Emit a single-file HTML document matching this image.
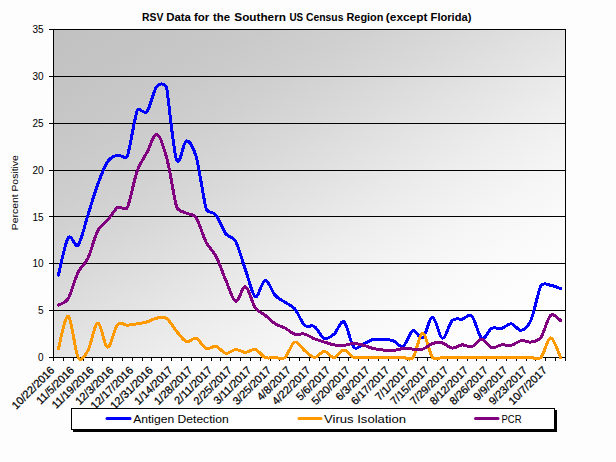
<!DOCTYPE html>
<html><head><meta charset="utf-8"><title>RSV Data</title>
<style>
html,body{margin:0;padding:0;background:#fff;}
body{width:616px;height:462px;position:relative;overflow:hidden;font-family:"Liberation Sans",sans-serif;}
.ar{font-family:"Liberation Sans",sans-serif;fill:#000;}
</style></head><body>
<svg width="616" height="462" viewBox="0 0 616 462" style="position:absolute;left:0;top:0">
<defs><linearGradient id="g" x1="0" y1="0" x2="1" y2="1"><stop offset="0" stop-color="rgb(193,193,193)"/><stop offset="0.1" stop-color="rgb(196,196,196)"/><stop offset="0.2" stop-color="rgb(201,201,201)"/><stop offset="0.3" stop-color="rgb(208,208,208)"/><stop offset="0.4" stop-color="rgb(217,217,217)"/><stop offset="0.5" stop-color="rgb(227,227,227)"/><stop offset="0.6" stop-color="rgb(237,237,237)"/><stop offset="0.7" stop-color="rgb(245,245,245)"/><stop offset="0.8" stop-color="rgb(251,251,251)"/><stop offset="0.9" stop-color="rgb(254,254,254)"/><stop offset="1" stop-color="rgb(255,255,255)"/></linearGradient><clipPath id="cp"><rect x="53.0" y="29.0" width="513.0" height="332.0"/></clipPath></defs>
<rect x="0" y="0" width="616" height="462" fill="#fdfdfd"/>
<rect x="53.5" y="29.5" width="512.0" height="328.0" fill="url(#g)"/>
<line x1="48.5" y1="357.5" x2="565.5" y2="357.5" stroke="#000" stroke-width="1" shape-rendering="crispEdges"/>
<line x1="48.5" y1="310.5" x2="565.5" y2="310.5" stroke="#000" stroke-width="1" shape-rendering="crispEdges"/>
<line x1="48.5" y1="263.5" x2="565.5" y2="263.5" stroke="#000" stroke-width="1" shape-rendering="crispEdges"/>
<line x1="48.5" y1="216.5" x2="565.5" y2="216.5" stroke="#000" stroke-width="1" shape-rendering="crispEdges"/>
<line x1="48.5" y1="170.5" x2="565.5" y2="170.5" stroke="#000" stroke-width="1" shape-rendering="crispEdges"/>
<line x1="48.5" y1="123.5" x2="565.5" y2="123.5" stroke="#000" stroke-width="1" shape-rendering="crispEdges"/>
<line x1="48.5" y1="76.5" x2="565.5" y2="76.5" stroke="#000" stroke-width="1" shape-rendering="crispEdges"/>
<line x1="48.5" y1="29.5" x2="565.5" y2="29.5" stroke="#000" stroke-width="1" shape-rendering="crispEdges"/>
<line x1="53.5" y1="29.0" x2="53.5" y2="358.0" stroke="#000" shape-rendering="crispEdges"/>
<line x1="565.5" y1="29.0" x2="565.5" y2="358.0" stroke="#000" shape-rendering="crispEdges"/>
<line x1="53.5" y1="357.5" x2="53.5" y2="361.0" stroke="#000" shape-rendering="crispEdges"/>
<line x1="63.5" y1="357.5" x2="63.5" y2="361.0" stroke="#000" shape-rendering="crispEdges"/>
<line x1="73.5" y1="357.5" x2="73.5" y2="361.0" stroke="#000" shape-rendering="crispEdges"/>
<line x1="83.5" y1="357.5" x2="83.5" y2="361.0" stroke="#000" shape-rendering="crispEdges"/>
<line x1="92.5" y1="357.5" x2="92.5" y2="361.0" stroke="#000" shape-rendering="crispEdges"/>
<line x1="102.5" y1="357.5" x2="102.5" y2="361.0" stroke="#000" shape-rendering="crispEdges"/>
<line x1="112.5" y1="357.5" x2="112.5" y2="361.0" stroke="#000" shape-rendering="crispEdges"/>
<line x1="122.5" y1="357.5" x2="122.5" y2="361.0" stroke="#000" shape-rendering="crispEdges"/>
<line x1="132.5" y1="357.5" x2="132.5" y2="361.0" stroke="#000" shape-rendering="crispEdges"/>
<line x1="142.5" y1="357.5" x2="142.5" y2="361.0" stroke="#000" shape-rendering="crispEdges"/>
<line x1="151.5" y1="357.5" x2="151.5" y2="361.0" stroke="#000" shape-rendering="crispEdges"/>
<line x1="161.5" y1="357.5" x2="161.5" y2="361.0" stroke="#000" shape-rendering="crispEdges"/>
<line x1="171.5" y1="357.5" x2="171.5" y2="361.0" stroke="#000" shape-rendering="crispEdges"/>
<line x1="181.5" y1="357.5" x2="181.5" y2="361.0" stroke="#000" shape-rendering="crispEdges"/>
<line x1="191.5" y1="357.5" x2="191.5" y2="361.0" stroke="#000" shape-rendering="crispEdges"/>
<line x1="201.5" y1="357.5" x2="201.5" y2="361.0" stroke="#000" shape-rendering="crispEdges"/>
<line x1="211.5" y1="357.5" x2="211.5" y2="361.0" stroke="#000" shape-rendering="crispEdges"/>
<line x1="220.5" y1="357.5" x2="220.5" y2="361.0" stroke="#000" shape-rendering="crispEdges"/>
<line x1="230.5" y1="357.5" x2="230.5" y2="361.0" stroke="#000" shape-rendering="crispEdges"/>
<line x1="240.5" y1="357.5" x2="240.5" y2="361.0" stroke="#000" shape-rendering="crispEdges"/>
<line x1="250.5" y1="357.5" x2="250.5" y2="361.0" stroke="#000" shape-rendering="crispEdges"/>
<line x1="260.5" y1="357.5" x2="260.5" y2="361.0" stroke="#000" shape-rendering="crispEdges"/>
<line x1="270.5" y1="357.5" x2="270.5" y2="361.0" stroke="#000" shape-rendering="crispEdges"/>
<line x1="279.5" y1="357.5" x2="279.5" y2="361.0" stroke="#000" shape-rendering="crispEdges"/>
<line x1="289.5" y1="357.5" x2="289.5" y2="361.0" stroke="#000" shape-rendering="crispEdges"/>
<line x1="299.5" y1="357.5" x2="299.5" y2="361.0" stroke="#000" shape-rendering="crispEdges"/>
<line x1="309.5" y1="357.5" x2="309.5" y2="361.0" stroke="#000" shape-rendering="crispEdges"/>
<line x1="319.5" y1="357.5" x2="319.5" y2="361.0" stroke="#000" shape-rendering="crispEdges"/>
<line x1="329.5" y1="357.5" x2="329.5" y2="361.0" stroke="#000" shape-rendering="crispEdges"/>
<line x1="339.5" y1="357.5" x2="339.5" y2="361.0" stroke="#000" shape-rendering="crispEdges"/>
<line x1="348.5" y1="357.5" x2="348.5" y2="361.0" stroke="#000" shape-rendering="crispEdges"/>
<line x1="358.5" y1="357.5" x2="358.5" y2="361.0" stroke="#000" shape-rendering="crispEdges"/>
<line x1="368.5" y1="357.5" x2="368.5" y2="361.0" stroke="#000" shape-rendering="crispEdges"/>
<line x1="378.5" y1="357.5" x2="378.5" y2="361.0" stroke="#000" shape-rendering="crispEdges"/>
<line x1="388.5" y1="357.5" x2="388.5" y2="361.0" stroke="#000" shape-rendering="crispEdges"/>
<line x1="398.5" y1="357.5" x2="398.5" y2="361.0" stroke="#000" shape-rendering="crispEdges"/>
<line x1="407.5" y1="357.5" x2="407.5" y2="361.0" stroke="#000" shape-rendering="crispEdges"/>
<line x1="417.5" y1="357.5" x2="417.5" y2="361.0" stroke="#000" shape-rendering="crispEdges"/>
<line x1="427.5" y1="357.5" x2="427.5" y2="361.0" stroke="#000" shape-rendering="crispEdges"/>
<line x1="437.5" y1="357.5" x2="437.5" y2="361.0" stroke="#000" shape-rendering="crispEdges"/>
<line x1="447.5" y1="357.5" x2="447.5" y2="361.0" stroke="#000" shape-rendering="crispEdges"/>
<line x1="457.5" y1="357.5" x2="457.5" y2="361.0" stroke="#000" shape-rendering="crispEdges"/>
<line x1="467.5" y1="357.5" x2="467.5" y2="361.0" stroke="#000" shape-rendering="crispEdges"/>
<line x1="476.5" y1="357.5" x2="476.5" y2="361.0" stroke="#000" shape-rendering="crispEdges"/>
<line x1="486.5" y1="357.5" x2="486.5" y2="361.0" stroke="#000" shape-rendering="crispEdges"/>
<line x1="496.5" y1="357.5" x2="496.5" y2="361.0" stroke="#000" shape-rendering="crispEdges"/>
<line x1="506.5" y1="357.5" x2="506.5" y2="361.0" stroke="#000" shape-rendering="crispEdges"/>
<line x1="516.5" y1="357.5" x2="516.5" y2="361.0" stroke="#000" shape-rendering="crispEdges"/>
<line x1="526.5" y1="357.5" x2="526.5" y2="361.0" stroke="#000" shape-rendering="crispEdges"/>
<line x1="535.5" y1="357.5" x2="535.5" y2="361.0" stroke="#000" shape-rendering="crispEdges"/>
<line x1="545.5" y1="357.5" x2="545.5" y2="361.0" stroke="#000" shape-rendering="crispEdges"/>
<line x1="555.5" y1="357.5" x2="555.5" y2="361.0" stroke="#000" shape-rendering="crispEdges"/>
<line x1="565.5" y1="357.5" x2="565.5" y2="361.0" stroke="#000" shape-rendering="crispEdges"/>
<path d="M58.42 275.03 C60.06 268.83 64.99 242.82 68.27 237.83 C71.55 232.83 74.83 248.84 78.12 245.04 C81.40 241.25 84.68 225.21 87.96 215.05 C91.24 204.90 94.53 193.03 97.81 184.13 C101.09 175.23 104.37 166.48 107.65 161.64 C110.94 156.80 114.22 156.01 117.50 155.08 C120.78 154.14 125.35 160.54 127.35 156.01 C129.35 151.49 135.19 115.09 137.19 110.56 C139.19 106.04 143.93 115.35 147.04 111.50 C150.15 107.65 153.60 90.02 156.88 86.20 C160.17 82.37 165.42 83.65 166.73 88.54 C168.04 93.43 173.29 151.02 176.58 159.76 C179.86 168.51 183.14 141.49 186.42 141.02 C189.71 140.55 193.65 147.96 196.27 156.95 C198.89 165.94 204.22 202.89 206.12 208.49 C208.01 214.10 212.68 210.84 215.96 215.05 C219.24 219.27 222.53 229.42 225.81 233.80 C229.09 238.17 232.69 235.86 235.65 241.29 C238.62 246.73 242.22 260.66 245.50 269.88 C248.78 279.09 252.06 294.87 255.35 296.59 C258.63 298.30 261.91 280.42 265.19 280.19 C268.47 279.95 271.76 291.51 275.04 295.18 C278.32 298.85 281.60 299.94 284.88 302.21 C288.17 304.47 291.45 304.94 294.73 308.77 C298.01 312.60 301.29 322.20 304.58 325.17 C307.86 328.14 311.14 324.39 314.42 326.57 C317.71 328.76 320.99 337.04 324.27 338.29 C327.55 339.54 330.83 336.80 334.12 334.07 C337.40 331.34 340.68 319.70 343.96 321.89 C347.24 324.08 350.53 343.52 353.81 347.19 C357.09 350.86 360.37 345.24 363.65 343.91 C366.94 342.58 370.22 339.93 373.50 339.23 C376.78 338.52 380.06 339.46 383.35 339.69 C386.63 339.93 389.91 339.54 393.19 340.63 C396.47 341.72 399.76 347.89 403.04 346.25 C406.32 344.61 409.60 332.20 412.88 330.79 C416.17 329.39 419.45 340.08 422.73 337.82 C426.01 335.56 429.29 317.12 432.58 317.20 C435.86 317.28 439.14 337.74 442.42 338.29 C445.71 338.84 448.99 323.68 452.27 320.48 C455.55 317.28 458.83 319.78 462.12 319.08 C465.40 318.37 468.68 313.06 471.96 316.27 C475.24 319.47 478.53 336.26 481.81 338.29 C485.09 340.32 488.37 330.09 491.65 328.45 C494.94 326.81 498.22 329.23 501.50 328.45 C504.78 327.67 508.06 323.45 511.35 323.76 C514.63 324.08 517.91 330.95 521.19 330.32 C524.47 329.70 528.15 326.53 531.04 320.01 C533.92 313.50 538.45 290.09 540.88 285.81 C543.32 281.52 547.45 284.87 550.73 285.34 C554.01 285.81 558.94 288.07 560.58 288.62" fill="none" stroke="#0000ff" stroke-width="3" stroke-linejoin="round" stroke-linecap="round" clip-path="url(#cp)" shape-rendering="crispEdges"/>
<path d="M58.42 348.69 C60.06 343.29 64.99 314.80 68.27 316.27 C71.55 317.73 75.10 352.26 78.12 357.50 C81.13 362.74 84.96 355.72 87.96 350.47 C90.97 345.22 94.53 323.65 97.81 323.11 C101.09 322.56 104.37 346.93 107.65 347.19 C110.94 347.46 114.22 328.37 117.50 324.70 C120.78 321.03 124.06 325.32 127.35 325.17 C130.63 325.01 133.91 324.31 137.19 323.76 C140.47 323.22 143.76 322.83 147.04 321.89 C150.32 320.95 153.60 318.69 156.88 318.14 C160.17 317.59 163.45 316.42 166.73 318.61 C170.01 320.80 173.29 327.43 176.58 331.26 C179.86 335.09 183.14 340.40 186.42 341.57 C189.71 342.74 192.99 337.12 196.27 338.29 C199.55 339.46 202.83 347.27 206.12 348.60 C209.40 349.92 212.68 345.47 215.96 346.25 C219.24 347.04 222.53 352.74 225.81 353.28 C229.09 353.83 232.37 349.69 235.65 349.53 C238.94 349.38 242.22 352.35 245.50 352.35 C248.78 352.35 252.06 348.68 255.35 349.53 C258.63 350.39 261.91 356.17 265.19 357.50 C268.47 358.83 271.76 357.50 275.04 357.50 C278.32 357.50 281.60 360.08 284.88 357.50 C288.17 354.92 291.45 343.21 294.73 342.04 C298.01 340.87 301.29 347.89 304.58 350.47 C307.86 353.05 311.14 357.34 314.42 357.50 C317.71 357.66 320.99 351.41 324.27 351.41 C327.55 351.41 330.83 357.73 334.12 357.50 C337.40 357.27 340.68 350.00 343.96 350.00 C347.24 350.00 350.53 356.25 353.81 357.50 C357.09 358.75 360.37 357.50 363.65 357.50 C366.94 357.50 370.22 357.50 373.50 357.50 C376.78 357.50 380.06 357.50 383.35 357.50 C386.63 357.50 389.91 357.50 393.19 357.50 C396.47 357.50 399.76 357.50 403.04 357.50 C406.32 357.50 409.75 361.30 412.88 357.50 C416.02 353.70 419.45 333.60 422.73 333.60 C426.01 333.60 429.45 353.70 432.58 357.50 C435.71 361.30 439.14 357.50 442.42 357.50 C445.71 357.50 448.99 357.50 452.27 357.50 C455.55 357.50 458.83 357.50 462.12 357.50 C465.40 357.50 468.68 357.50 471.96 357.50 C475.24 357.50 478.53 357.50 481.81 357.50 C485.09 357.50 488.37 357.50 491.65 357.50 C494.94 357.50 498.22 357.50 501.50 357.50 C504.78 357.50 508.06 357.50 511.35 357.50 C514.63 357.50 517.91 357.50 521.19 357.50 C524.47 357.50 527.76 357.50 531.04 357.50 C534.32 357.50 537.60 360.78 540.88 357.50 C544.17 354.22 547.45 337.82 550.73 337.82 C554.01 337.82 558.94 354.22 560.58 357.50" fill="none" stroke="#ff9900" stroke-width="3" stroke-linejoin="round" stroke-linecap="round" clip-path="url(#cp)" shape-rendering="crispEdges"/>
<path d="M58.42 305.02 C60.06 303.93 65.22 303.53 68.27 298.46 C71.31 293.39 74.83 278.94 78.12 272.22 C81.40 265.50 84.68 265.11 87.96 258.16 C91.24 251.21 94.53 236.84 97.81 230.52 C101.09 224.19 104.37 224.04 107.65 220.21 C110.94 216.38 114.22 209.67 117.50 207.56 C120.78 205.45 125.01 211.89 127.35 207.56 C129.68 203.22 133.91 180.22 137.19 171.01 C140.47 161.79 143.76 158.36 147.04 152.27 C150.32 146.17 153.60 133.52 156.88 134.46 C160.17 135.40 163.45 145.86 166.73 157.89 C170.01 169.92 174.59 201.05 176.58 206.62 C178.56 212.19 183.14 211.31 186.42 213.18 C189.71 215.05 193.21 213.35 196.27 217.87 C199.33 222.38 202.83 235.83 206.12 242.23 C209.40 248.64 212.68 249.96 215.96 256.29 C219.24 262.61 222.53 272.69 225.81 280.19 C229.09 287.68 232.37 300.18 235.65 301.27 C238.94 302.36 242.22 285.65 245.50 286.75 C248.78 287.84 252.06 303.07 255.35 307.83 C258.63 312.60 261.91 312.67 265.19 315.33 C268.47 317.98 271.76 321.65 275.04 323.76 C278.32 325.87 281.60 326.26 284.88 327.98 C288.17 329.70 291.45 333.06 294.73 334.07 C298.01 335.09 301.29 333.29 304.58 334.07 C307.86 334.85 311.14 337.43 314.42 338.76 C317.71 340.08 320.99 341.02 324.27 342.04 C327.55 343.05 330.83 344.30 334.12 344.85 C337.40 345.40 340.68 345.55 343.96 345.32 C347.24 345.08 350.53 343.44 353.81 343.44 C357.09 343.44 360.37 344.46 363.65 345.32 C366.94 346.18 370.22 347.82 373.50 348.60 C376.78 349.38 380.06 349.69 383.35 350.00 C386.63 350.32 389.91 350.71 393.19 350.47 C396.47 350.24 399.76 348.83 403.04 348.60 C406.32 348.36 409.60 348.99 412.88 349.07 C416.17 349.14 419.45 350.00 422.73 349.07 C426.01 348.13 429.29 344.46 432.58 343.44 C435.86 342.43 439.14 342.19 442.42 342.97 C445.71 343.76 448.99 347.82 452.27 348.13 C455.55 348.44 458.83 345.08 462.12 344.85 C465.40 344.61 468.68 347.66 471.96 346.72 C475.24 345.79 478.53 339.07 481.81 339.23 C485.09 339.38 488.37 346.72 491.65 347.66 C494.94 348.60 498.22 345.24 501.50 344.85 C504.78 344.46 508.06 346.02 511.35 345.32 C514.63 344.61 517.91 341.18 521.19 340.63 C524.47 340.08 527.76 342.58 531.04 342.04 C534.32 341.49 537.65 341.74 540.88 337.35 C544.12 332.96 547.45 318.14 550.73 315.33 C554.01 312.52 558.94 319.62 560.58 320.48" fill="none" stroke="#800080" stroke-width="3" stroke-linejoin="round" stroke-linecap="round" clip-path="url(#cp)" shape-rendering="crispEdges"/>
<text x="43.5" y="361.1" text-anchor="end" font-size="10" class="ar">0</text>
<text x="43.5" y="314.2" text-anchor="end" font-size="10" class="ar">5</text>
<text x="43.5" y="267.4" text-anchor="end" font-size="10" class="ar">10</text>
<text x="43.5" y="220.5" text-anchor="end" font-size="10" class="ar">15</text>
<text x="43.5" y="173.7" text-anchor="end" font-size="10" class="ar">20</text>
<text x="43.5" y="126.8" text-anchor="end" font-size="10" class="ar">25</text>
<text x="43.5" y="80.0" text-anchor="end" font-size="10" class="ar">30</text>
<text x="43.5" y="33.1" text-anchor="end" font-size="10" class="ar">35</text>
<text transform="translate(55.2 371.0) rotate(-45)" text-anchor="end" font-size="11" class="ar" stroke="#000" stroke-width="0.25">10/22/2016</text>
<text transform="translate(74.9 371.0) rotate(-45)" text-anchor="end" font-size="11" class="ar" stroke="#000" stroke-width="0.25">11/5/2016</text>
<text transform="translate(94.6 371.0) rotate(-45)" text-anchor="end" font-size="11" class="ar" stroke="#000" stroke-width="0.25">11/19/2016</text>
<text transform="translate(114.3 371.0) rotate(-45)" text-anchor="end" font-size="11" class="ar" stroke="#000" stroke-width="0.25">12/3/2016</text>
<text transform="translate(134.0 371.0) rotate(-45)" text-anchor="end" font-size="11" class="ar" stroke="#000" stroke-width="0.25">12/17/2016</text>
<text transform="translate(153.7 371.0) rotate(-45)" text-anchor="end" font-size="11" class="ar" stroke="#000" stroke-width="0.25">12/31/2016</text>
<text transform="translate(173.4 371.0) rotate(-45)" text-anchor="end" font-size="11" class="ar" stroke="#000" stroke-width="0.25">1/14/2017</text>
<text transform="translate(193.1 371.0) rotate(-45)" text-anchor="end" font-size="11" class="ar" stroke="#000" stroke-width="0.25">1/28/2017</text>
<text transform="translate(212.8 371.0) rotate(-45)" text-anchor="end" font-size="11" class="ar" stroke="#000" stroke-width="0.25">2/11/2017</text>
<text transform="translate(232.5 371.0) rotate(-45)" text-anchor="end" font-size="11" class="ar" stroke="#000" stroke-width="0.25">2/25/2017</text>
<text transform="translate(252.1 371.0) rotate(-45)" text-anchor="end" font-size="11" class="ar" stroke="#000" stroke-width="0.25">3/11/2017</text>
<text transform="translate(271.8 371.0) rotate(-45)" text-anchor="end" font-size="11" class="ar" stroke="#000" stroke-width="0.25">3/25/2017</text>
<text transform="translate(291.5 371.0) rotate(-45)" text-anchor="end" font-size="11" class="ar" stroke="#000" stroke-width="0.25">4/8/2017</text>
<text transform="translate(311.2 371.0) rotate(-45)" text-anchor="end" font-size="11" class="ar" stroke="#000" stroke-width="0.25">4/22/2017</text>
<text transform="translate(330.9 371.0) rotate(-45)" text-anchor="end" font-size="11" class="ar" stroke="#000" stroke-width="0.25">5/6/2017</text>
<text transform="translate(350.6 371.0) rotate(-45)" text-anchor="end" font-size="11" class="ar" stroke="#000" stroke-width="0.25">5/20/2017</text>
<text transform="translate(370.3 371.0) rotate(-45)" text-anchor="end" font-size="11" class="ar" stroke="#000" stroke-width="0.25">6/3/2017</text>
<text transform="translate(390.0 371.0) rotate(-45)" text-anchor="end" font-size="11" class="ar" stroke="#000" stroke-width="0.25">6/17/2017</text>
<text transform="translate(409.7 371.0) rotate(-45)" text-anchor="end" font-size="11" class="ar" stroke="#000" stroke-width="0.25">7/1/2017</text>
<text transform="translate(429.4 371.0) rotate(-45)" text-anchor="end" font-size="11" class="ar" stroke="#000" stroke-width="0.25">7/15/2017</text>
<text transform="translate(449.1 371.0) rotate(-45)" text-anchor="end" font-size="11" class="ar" stroke="#000" stroke-width="0.25">7/29/2017</text>
<text transform="translate(468.8 371.0) rotate(-45)" text-anchor="end" font-size="11" class="ar" stroke="#000" stroke-width="0.25">8/12/2017</text>
<text transform="translate(488.5 371.0) rotate(-45)" text-anchor="end" font-size="11" class="ar" stroke="#000" stroke-width="0.25">8/26/2017</text>
<text transform="translate(508.1 371.0) rotate(-45)" text-anchor="end" font-size="11" class="ar" stroke="#000" stroke-width="0.25">9/9/2017</text>
<text transform="translate(527.8 371.0) rotate(-45)" text-anchor="end" font-size="11" class="ar" stroke="#000" stroke-width="0.25">9/23/2017</text>
<text transform="translate(547.5 371.0) rotate(-45)" text-anchor="end" font-size="11" class="ar" stroke="#000" stroke-width="0.25">10/7/2017</text>
<text transform="translate(18.0 192.7) rotate(-90)" text-anchor="middle" font-size="9.5" class="ar" textLength="75" lengthAdjust="spacingAndGlyphs">Percent Positive</text>
<text x="142.1" y="21.0" font-size="11" font-weight="bold" class="ar" textLength="21.3" lengthAdjust="spacingAndGlyphs">RSV</text>
<text x="166.2" y="21.0" font-size="11" font-weight="bold" class="ar" textLength="24.8" lengthAdjust="spacingAndGlyphs">Data</text>
<text x="193.9" y="21.0" font-size="11" font-weight="bold" class="ar" textLength="15.3" lengthAdjust="spacingAndGlyphs">for</text>
<text x="213.0" y="21.0" font-size="11" font-weight="bold" class="ar" textLength="17.0" lengthAdjust="spacingAndGlyphs">the</text>
<text x="234.3" y="21.0" font-size="11" font-weight="bold" class="ar" textLength="51.6" lengthAdjust="spacingAndGlyphs">Southern</text>
<text x="289.4" y="21.0" font-size="11" font-weight="bold" class="ar" textLength="13.7" lengthAdjust="spacingAndGlyphs">US</text>
<text x="306.0" y="21.0" font-size="11" font-weight="bold" class="ar" textLength="37.4" lengthAdjust="spacingAndGlyphs">Census</text>
<text x="346.5" y="21.0" font-size="11" font-weight="bold" class="ar" textLength="36.9" lengthAdjust="spacingAndGlyphs">Region</text>
<text x="385.8" y="21.0" font-size="11" font-weight="bold" class="ar" textLength="41.7" lengthAdjust="spacingAndGlyphs">(except</text>
<text x="430.6" y="21.0" font-size="11" font-weight="bold" class="ar" textLength="40.8" lengthAdjust="spacingAndGlyphs">Florida)</text>
<rect x="73.0" y="410.0" width="484.0" height="22.0" fill="#000" shape-rendering="crispEdges"/>
<rect x="71.5" y="408.5" width="483.0" height="21.0" fill="#fff" stroke="#000" shape-rendering="crispEdges"/>
<line x1="107.0" y1="418.5" x2="130.0" y2="418.5" stroke="#0000ff" stroke-width="3" stroke-linecap="round"/>
<text x="133.2" y="423.0" font-size="11" class="ar" textLength="95.5" lengthAdjust="spacingAndGlyphs">Antigen Detection</text>
<line x1="299.0" y1="418.5" x2="321.0" y2="418.5" stroke="#ff9900" stroke-width="3" stroke-linecap="round"/>
<text x="324.0" y="423.0" font-size="11" class="ar" textLength="82" lengthAdjust="spacingAndGlyphs">Virus Isolation</text>
<line x1="475.5" y1="418.5" x2="498.0" y2="418.5" stroke="#800080" stroke-width="3" stroke-linecap="round"/>
<text x="501.5" y="423.0" font-size="11" class="ar" textLength="20" lengthAdjust="spacingAndGlyphs">PCR</text>
</svg>
</body></html>
